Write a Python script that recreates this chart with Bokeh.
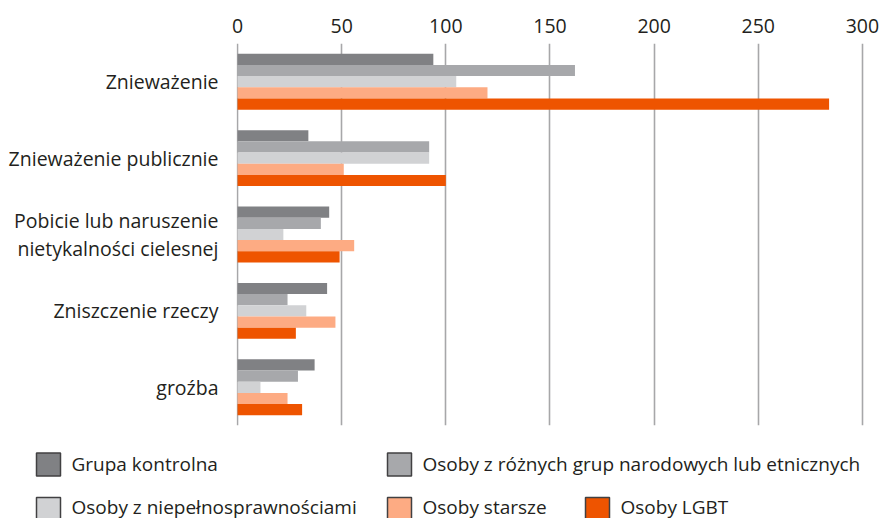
from bokeh.plotting import figure
from bokeh.models import FactorRange, Range1d, FixedTicker, ColumnDataSource
from bokeh.transform import dodge
from bokeh.layouts import column
from bokeh.core.properties import value
from bokeh.embed import file_html
from bokeh.resources import INLINE

# ---------------- data ----------------
CATEGORIES = [
    "Znieważenie",
    "Znieważenie publicznie",
    "Pobicie lub naruszenie\nnietykalności cielesnej",
    "Zniszczenie rzeczy",
    "groźba",
]
SERIES = [
    "Grupa kontrolna",
    "Osoby z różnych grup narodowych lub etnicznych",
    "Osoby z niepełnosprawnościami",
    "Osoby starsze",
    "Osoby LGBT",
]
GRUPA_KONTROLNA = [94, 34, 44, 43, 37]
ROZNE_GRUPY = [162, 92, 40, 24, 29]
NIEPELNOSPRAWNI = [105, 92, 22, 33, 11]
STARSI = [120, 51, 56, 47, 24]
LGBT = [284, 100, 49, 28, 31]
X_TICKS = [0, 50, 100, 150, 200, 250, 300]

# ---------------- style ----------------
COLORS = ["#808184", "#a7a8ab", "#d1d2d4", "#fdab83", "#ee5400"]
FONT = "Open Sans"
TEXT_COLOR = "#231f20"
GRID_COLOR = "#a7a7a9"
BAR_H = 0.1464
W = 880

VALUES = [GRUPA_KONTROLNA, ROZNE_GRUPY, NIEPELNOSPRAWNI, STARSI, LGBT]
src = ColumnDataSource(dict(cat=CATEGORIES, **{f"s{i}": v for i, v in enumerate(VALUES)}))

p = figure(
    y_range=FactorRange(*CATEGORIES[::-1]),
    x_range=Range1d(-0.5, 301),
    width=W, height=428,
    x_axis_location="above",
    output_backend="svg", toolbar_location=None,
    min_border_left=236, min_border_right=16,
    min_border_top=43, min_border_bottom=3,
)
p.frame_align = False
p.outline_line_color = None
p.background_fill_color = "white"
p.border_fill_color = "white"

for i, color in enumerate(COLORS):
    p.hbar(
        y=dodge("cat", (2 - i) * BAR_H, range=p.y_range),
        left=0, right=f"s{i}", height=BAR_H,
        source=src, fill_color=color, line_color=None,
    )

p.xaxis.ticker = FixedTicker(ticks=X_TICKS)
p.xgrid.ticker = FixedTicker(ticks=X_TICKS)
p.xgrid.grid_line_color = GRID_COLOR
p.xgrid.grid_line_width = 1.6
p.ygrid.grid_line_color = None

for ax in (p.xaxis, p.yaxis):
    ax.axis_line_color = None
    ax.major_tick_line_color = None
    ax.minor_tick_line_color = None
    ax.major_label_text_font = FONT
    ax.major_label_text_color = TEXT_COLOR
    ax.major_label_text_font_size = "19.5px"
p.xaxis.major_label_standoff = 5
p.yaxis.major_label_standoff = 12
p.yaxis.major_label_text_line_height = 1.05

# ---------------- legend strip (separate, unaligned figure) ----------------
LEG_ROW = [0, 0, 1, 1, 1]
LEG_COL = [0, 1, 0, 1, 2]
COL_X = [36, 387, 585]        # square left edge, px in strip
ROW_SQ_Y = [36, 80.5]         # square centre, px from strip top
ROW_TX_Y = [35, 78]           # text centre, px from strip top

lf = figure(
    width=W, height=90,
    x_range=Range1d(0, W), y_range=Range1d(90, 0),
    x_axis_location=None, y_axis_location=None,
    output_backend="svg", toolbar_location=None, min_border=0,
)
lf.frame_align = False
lf.outline_line_color = None
lf.grid.visible = False

leg_src = ColumnDataSource(dict(
    x=[COL_X[c] + 12 for c in LEG_COL],
    y=[ROW_SQ_Y[r] for r in LEG_ROW],
    tx=[COL_X[c] + 35 for c in LEG_COL],
    ty=[ROW_TX_Y[r] for r in LEG_ROW],
    label=SERIES,
    color=COLORS,
))
lf.rect(x="x", y="y", width=24, height=23, source=leg_src,
        fill_color="color", line_color="#414042", line_width=1.5)
lf.text(x="tx", y="ty", text="label", source=leg_src,
        text_font=value(FONT), text_font_size="19px", text_color=TEXT_COLOR,
        text_baseline="middle", text_align="left")

layout = column(p, lf, spacing=0)
open("out.html", "w").write(file_html(layout, INLINE))
